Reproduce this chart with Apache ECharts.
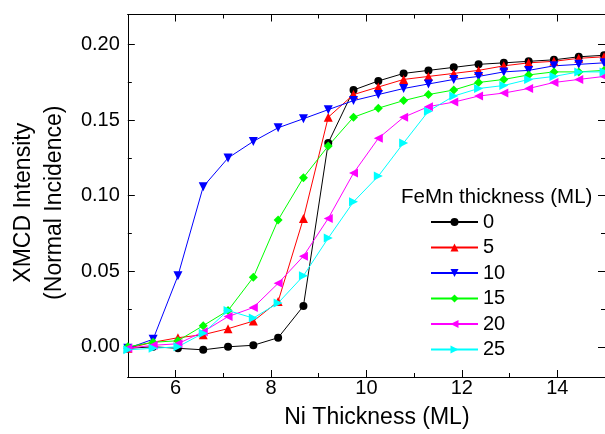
<!DOCTYPE html>
<html>
<head>
<meta charset="utf-8">
<script src="https://cdn.jsdelivr.net/npm/echarts@6/dist/echarts.min.js"></script>
<style>
html, body { margin: 0; padding: 0; background: #fff; }
#chart { width: 605px; height: 434px; }
</style>
</head>
<body>
<div id="chart"></div>
<script>
// Data
const niThickness = [5.00, 5.53, 6.05, 6.58, 7.10, 7.63, 8.15, 8.68, 9.20, 9.73,
    10.25, 10.78, 11.30, 11.83, 12.35, 12.88, 13.40, 13.93, 14.45, 14.98];

const femn0 = [-0.001, 0.000, -0.001, -0.002, 0.000, 0.001, 0.006, 0.027, 0.135, 0.170,
    0.176, 0.181, 0.183, 0.185, 0.187, 0.188, 0.189, 0.190, 0.192, 0.193];
const femn5 = [-0.001, 0.003, 0.006, 0.008, 0.012, 0.017, 0.030, 0.085, 0.152, 0.167,
    0.172, 0.177, 0.179, 0.181, 0.183, 0.186, 0.188, 0.189, 0.191, 0.192];
const femn10 = [-0.001, 0.005, 0.047, 0.106, 0.125, 0.136, 0.145, 0.151, 0.157, 0.163,
    0.167, 0.171, 0.174, 0.177, 0.179, 0.182, 0.183, 0.186, 0.187, 0.188];
const femn15 = [0.000, 0.003, 0.004, 0.014, 0.024, 0.046, 0.084, 0.112, 0.133, 0.152,
    0.158, 0.163, 0.167, 0.170, 0.175, 0.177, 0.180, 0.182, 0.182, 0.183];
const femn20 = [-0.001, 0.001, 0.002, 0.010, 0.020, 0.026, 0.042, 0.060, 0.085, 0.115,
    0.138, 0.152, 0.159, 0.162, 0.166, 0.168, 0.171, 0.175, 0.177, 0.179];
const femn25 = [-0.002, -0.001, 0.000, 0.009, 0.024, 0.019, 0.029, 0.047, 0.072, 0.096,
    0.113, 0.135, 0.156, 0.166, 0.171, 0.173, 0.177, 0.179, 0.182, 0.182];

const seriesNames = ['0', '5', '10', '15', '20', '25'];

// Tick labels
const xMajorTicks = [6, 8, 10, 12, 14];
const xMinorTicks = [7, 9, 11, 13];
const yMajorTicks = [0, 0.05, 0.10, 0.15, 0.20];
const yMinorTicks = [0.025, 0.075, 0.125, 0.175];

const FONT = '"Liberation Sans", Arial, Helvetica, sans-serif';

const elChart = document.getElementById('chart');
const chart = echarts.init(elChart, null, { renderer: 'canvas' });

function pairs(values) {
    return values.map((v, i) => [niThickness[i], v]);
}

// one axis = one set of inward ticks (Origin style frame)
function tickAxis(position, min, max, ticks, length) {
    return {
        type: 'value',
        position: position,
        min: min,
        max: max,
        axisLine: { show: true, onZero: false, lineStyle: { color: '#000', width: 1 } },
        axisTick: {
            show: true,
            inside: true,
            length: length,
            customValues: ticks,
            lineStyle: { color: '#000', width: 1 }
        },
        axisLabel: { show: false },
        splitLine: { show: false },
        minorTick: { show: false }
    };
}

const xMain = tickAxis('bottom', 5, 15, xMajorTicks, 7);
xMain.axisLabel = {
    show: true,
    customValues: xMajorTicks,
    margin: 1,
    fontSize: 20,
    color: '#000',
    fontFamily: FONT
};
xMain.name = 'Ni Thickness (ML)';
xMain.nameLocation = 'middle';
xMain.nameGap = 29;
xMain.nameTextStyle = {
    fontSize: 23,
    lineHeight: 23,
    color: '#000',
    fontFamily: FONT,
    padding: [0, 0, 0, 21]
};

const yMain = tickAxis('left', -0.02, 0.22, yMajorTicks, 7);
yMain.axisLabel = {
    show: true,
    customValues: yMajorTicks,
    margin: 8,
    fontSize: 20,
    color: '#000',
    fontFamily: FONT,
    formatter: (v) => v.toFixed(2)
};
yMain.name = 'XMCD Intensity\n(Normal Incidence)';
yMain.nameLocation = 'middle';
yMain.nameRotate = 90;
yMain.nameGap = 54;
yMain.nameTextStyle = {
    fontSize: 23,
    lineHeight: 31,
    color: '#000',
    fontFamily: FONT,
    padding: [0, 14, 0, 0]
};

const styles = [
    { symbol: 'circle', size: 8, rotate: 0, color: '#000000' },
    { symbol: 'triangle', size: 9, rotate: 0, color: '#ff0000' },
    { symbol: 'triangle', size: 9, rotate: 180, color: '#0000ff' },
    { symbol: 'diamond', size: 9, rotate: 0, color: '#00ff00' },
    { symbol: 'triangle', size: 9, rotate: 90, color: '#ff00ff' },
    { symbol: 'triangle', size: 9, rotate: -90, color: '#00ffff' }
];
const seriesData = [femn0, femn5, femn10, femn15, femn20, femn25];

const series = seriesData.map((vals, i) => ({
    name: seriesNames[i],
    type: 'line',
    xAxisIndex: 0,
    yAxisIndex: 0,
    data: pairs(vals),
    symbol: styles[i].symbol,
    symbolSize: styles[i].size,
    symbolRotate: styles[i].rotate,
    showAllSymbol: true,
    color: styles[i].color,
    lineStyle: { width: 1, color: styles[i].color },
    itemStyle: { color: styles[i].color },
    emphasis: { disabled: true },
    clip: true
}));

const option = {
    animation: false,
    backgroundColor: '#fff',
    textStyle: { fontFamily: FONT },
    grid: { left: 119, top: 14.5, width: 490, height: 363 },
    title: {
        text: 'FeMn thickness (ML)',
        left: 401,
        top: 187,
        padding: 0,
        textStyle: { fontSize: 20.5, lineHeight: 20, fontWeight: 'normal', color: '#000', fontFamily: FONT }
    },
    legend: {
        data: seriesNames,
        orient: 'vertical',
        left: 430,
        top: 212,
        padding: 0,
        itemWidth: 47,
        itemHeight: 10,
        itemGap: 5.5,
        textStyle: { fontSize: 20, lineHeight: 20, color: '#000', fontFamily: FONT }
    },
    xAxis: [
        xMain,
        tickAxis('bottom', 5, 15, xMinorTicks, 4),
        tickAxis('top', 5, 15, xMajorTicks, 7),
        tickAxis('top', 5, 15, xMinorTicks, 4)
    ],
    yAxis: [
        yMain,
        tickAxis('left', -0.02, 0.22, yMinorTicks, 4),
        tickAxis('right', -0.02, 0.22, yMajorTicks, 7),
        tickAxis('right', -0.02, 0.22, yMinorTicks, 4)
    ],
    series: series
};

chart.setOption(option);
</script>
</body>
</html>
